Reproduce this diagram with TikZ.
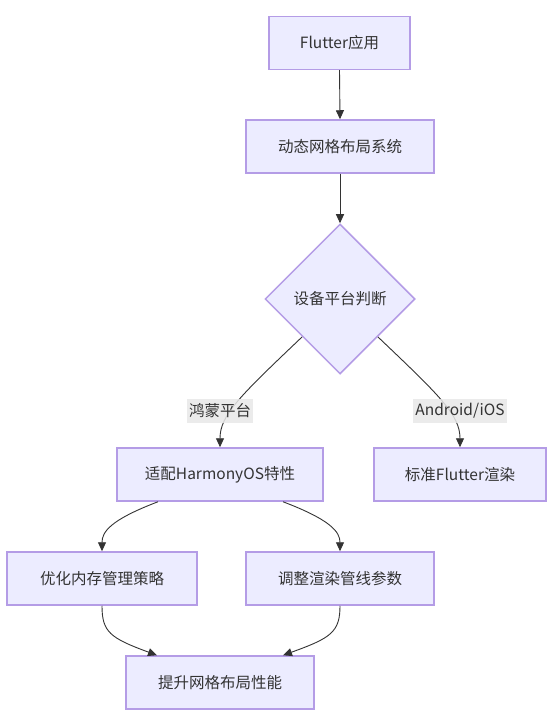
\documentclass[tikz,border=0pt]{standalone}
\usepackage{fontspec}
\setmainfont{Noto Sans CJK SC}
\usetikzlibrary{shapes.geometric,arrows.meta,calc}
\definecolor{nodefill}{HTML}{ECECFF}
\definecolor{nodeline}{HTML}{B49CE6}
\definecolor{edgeline}{HTML}{333333}
\definecolor{labelbg}{HTML}{E8E8E8}
\begin{document}
\begin{tikzpicture}[x=1pt,y=-1pt,
  every node/.style={font=\fontsize{15.5}{18}\selectfont, text=edgeline},
  box/.style={draw=nodeline, fill=nodefill, line width=1.5pt, rectangle, minimum height=53pt, inner sep=0pt},
  decision/.style={draw=nodeline, fill=nodefill, line width=1.5pt, diamond, minimum width=150pt, minimum height=150pt, inner sep=0pt},
  edgelabel/.style={fill=labelbg, fill opacity=0.85, text opacity=1, inner sep=2pt, minimum height=24pt},
  conn/.style={draw=edgeline, line width=0.9pt, -{Triangle[length=9pt,width=8pt]}}]
\useasboundingbox (0,0) rectangle (556,719);
\node[box, minimum width=141pt] (app) at (339.5,43) {Flutter应用};
\node[box, minimum width=188pt] (grid) at (340,146.5) {动态网格布局系统};
\node[decision] (dev) at (340,299) {设备平台判断};
\node[box, minimum width=206pt] (hm) at (220,474.5) {适配HarmonyOS特性};
\node[box, minimum width=172pt] (std) at (460,474.5) {标准Flutter渲染};
\node[box, minimum width=190pt] (mem) at (102,578.5) {优化内存管理策略};
\node[box, minimum width=188pt] (pipe) at (340,578.5) {调整渲染管线参数};
\node[box, minimum width=188pt] (perf) at (220,682.5) {提升网格布局性能};

\draw[conn] (app.south) -- (grid.north);
\draw[conn] (grid.south) -- (dev.north);
\draw[conn] (dev.south west) .. controls (240,396) and (220,415) .. (hm.north);
\draw[conn] (dev.south east) .. controls (440,396) and (460,415) .. (std.north);
\draw[conn] ($(hm.south)+(-62,0)$) .. controls (110,520) and (102,532) .. (mem.north);
\draw[conn] ($(hm.south)+(63,0)$) .. controls (331,520) and (340,532) .. (pipe.north);
\draw[conn] (mem.south) .. controls (102,632) and (110,638) .. ($(perf.north)+(-63,0)$);
\draw[conn] (pipe.south) .. controls (340,632) and (331,638) .. ($(perf.north)+(63,0)$);

\node[edgelabel] (lhm) at (220,411) {鸿蒙平台};
\node[edgelabel] (lstd) at (460,411) {Android/iOS};
\end{tikzpicture}
\end{document}
